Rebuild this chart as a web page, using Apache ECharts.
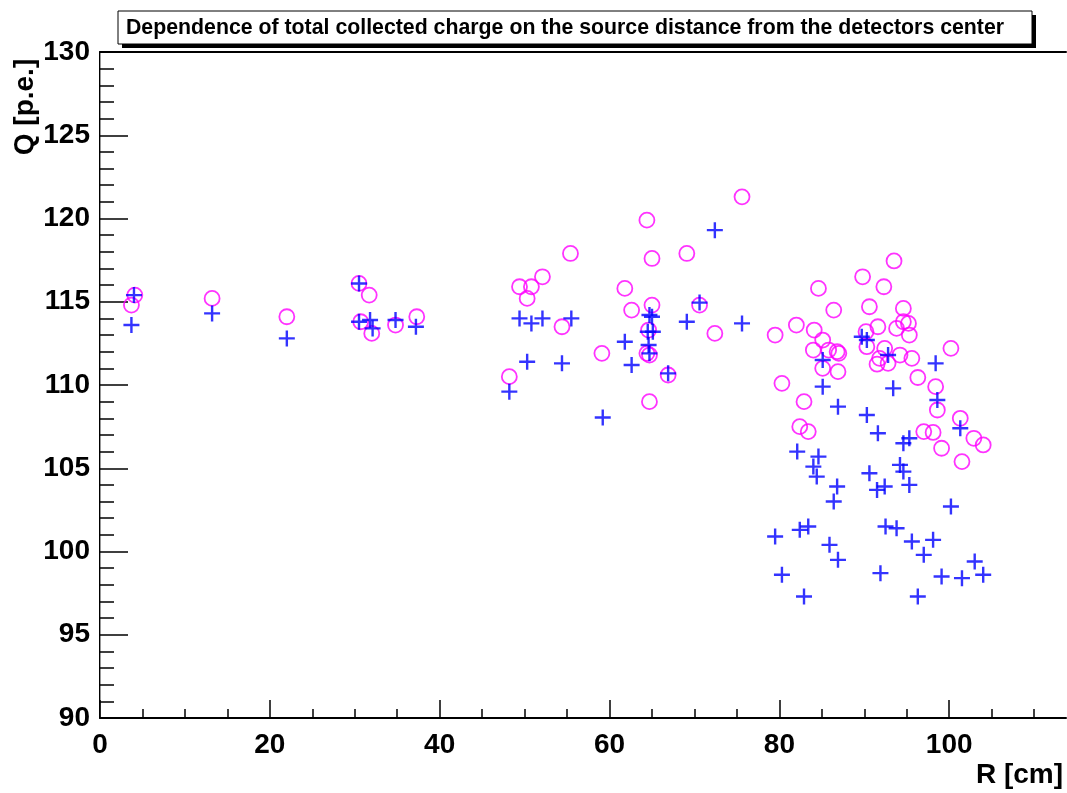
<!DOCTYPE html>
<html>
<head>
<meta charset="utf-8">
<script src="https://cdn.jsdelivr.net/npm/echarts@6/dist/echarts.min.js"></script>
<style>
  html, body { margin: 0; padding: 0; background: #fff; }
  #chart { width: 1067px; height: 793px; }
</style>
</head>
<body>
<div id="chart"></div>
<script>
// Source distance R [cm] and collected charge Q [p.e.] — open-circle set
const radiusA = [4.1, 3.7, 13.2, 22.0, 30.5, 31.7, 30.7, 32.0, 34.8, 37.3,
  48.2, 49.4, 50.3, 50.8, 52.1, 54.4, 55.4, 59.1, 61.8, 62.6, 64.4, 64.4, 64.7, 64.6, 65.0, 65.0, 64.7, 66.9, 69.1, 70.6, 72.4, 75.6,
  79.5, 80.3, 82.0, 82.9, 82.4, 83.4, 84.0, 84.1, 84.6, 85.1, 85.1, 85.8, 86.4, 86.8, 87.0, 86.9, 89.8, 90.2, 90.3, 90.6,
  91.5, 91.6, 91.8, 92.3, 92.4, 92.8, 93.5, 93.8, 94.2, 94.6, 94.6, 95.2, 95.3, 95.6, 96.3, 97.0, 98.1, 98.4, 98.6, 99.1,
  100.2, 101.3, 101.5, 102.9, 104.0];
const chargeA = [115.4, 114.8, 115.2, 114.1, 116.1, 115.4, 113.8, 113.1, 113.6, 114.1,
  110.5, 115.9, 115.2, 115.9, 116.5, 113.5, 117.9, 111.9, 115.8, 114.5, 119.9, 111.9, 111.8, 113.3, 117.6, 114.8, 109.0, 110.6, 117.9, 114.8, 113.1, 121.3,
  113.0, 110.1, 113.6, 109.0, 107.5, 107.2, 112.1, 113.3, 115.8, 112.7, 111.0, 112.1, 114.5, 112.0, 111.9, 110.8, 116.5, 113.2, 112.3, 114.7,
  111.25, 113.5, 111.6, 115.9, 112.2, 111.3, 117.45, 113.4, 111.8, 114.6, 113.8, 113.7, 113.0, 111.6, 110.45, 107.2, 107.15, 109.9, 108.5, 106.2,
  112.2, 108.0, 105.4, 106.8, 106.4];

// Source distance R [cm] and collected charge Q [p.e.] — cross set
const radiusB = [4.0, 3.7, 13.2, 22.0, 30.5, 30.5, 31.8, 32.1, 34.8, 37.2,
  48.2, 49.4, 50.3, 50.8, 52.1, 54.4, 55.5, 59.2, 61.8, 62.6, 64.5, 64.7, 65.0, 65.1, 64.6, 64.7, 66.9, 69.1, 70.6, 72.4, 75.6,
  79.5, 80.3, 82.1, 82.4, 82.9, 83.4, 84.0, 84.4, 84.6, 85.1, 85.1, 85.9, 86.4, 86.8, 86.9, 86.9, 89.7, 90.3, 90.3, 90.6,
  91.5, 91.6, 91.9, 92.4, 92.5, 92.8, 93.4, 93.8, 94.2, 94.6, 94.6, 95.3, 95.3, 95.6, 96.3, 97.0, 98.1, 98.4, 98.6, 99.1,
  100.2, 101.3, 101.5, 103.0, 104.0];
const chargeB = [115.4, 113.6, 114.3, 112.8, 116.1, 113.8, 113.9, 113.4, 113.9, 113.5,
  109.6, 114.0, 111.4, 113.7, 114.0, 111.3, 114.0, 108.05, 112.6, 111.2, 113.2, 114.2, 114.1, 113.2, 112.4, 111.9, 110.7, 113.8, 114.95, 119.3, 113.7,
  100.9, 98.6, 106.0, 101.3, 97.3, 101.5, 105.1, 104.5, 105.7, 111.5, 109.9, 100.4, 103.0, 103.9, 108.7, 99.5, 112.9, 112.7, 108.2, 104.7,
  103.7, 107.1, 98.7, 103.9, 101.5, 111.8, 109.8, 101.4, 105.2, 104.8, 106.5, 106.8, 104.0, 100.6, 97.3, 99.8, 100.7, 111.3, 109.1, 98.5,
  102.7, 107.4, 98.4, 99.4, 98.6];

// Axis ticks
const xMajorTicks = [0, 20, 40, 60, 80, 100];
const xMinorTicks = [5, 10, 15, 25, 30, 35, 45, 50, 55, 65, 70, 75, 85, 90, 95, 105, 110];
const xRange = [0, 113.75];
const yRange = [90, 130];

const titleText = 'Dependence of total collected charge on the source distance from the detectors center';
const xTitle = 'R [cm]';
const yTitle = 'Q [p.e.]';

const FONT = '"Liberation Sans", Arial, Helvetica, sans-serif';
const tickStyle = { color: '#000', width: 1.5 };
const labelStyle = { color: '#000', fontFamily: FONT, fontWeight: 'bold', fontSize: 28 };

const zip = (xs, ys) => xs.map((x, i) => [x, ys[i]]);

const chart = echarts.init(document.getElementById('chart'), null, { renderer: 'canvas' });
chart.setOption({
  animation: false,
  backgroundColor: '#fff',
  grid: { left: 100, top: 52, width: 966, height: 666, containLabel: false },
  xAxis: [
    {
      type: 'value', position: 'bottom', min: xRange[0], max: xRange[1],
      axisLine: { lineStyle: { color: '#000', width: 2 } },
      axisTick: { inside: true, length: 18, customValues: xMajorTicks, lineStyle: tickStyle },
      axisLabel: Object.assign({ customValues: xMajorTicks, margin: 13 }, labelStyle),
      splitLine: { show: false }
    },
    {
      type: 'value', position: 'bottom', min: xRange[0], max: xRange[1],
      axisLine: { show: false },
      axisTick: { inside: true, length: 9, customValues: xMinorTicks, lineStyle: tickStyle },
      axisLabel: { show: false },
      splitLine: { show: false }
    },
    {
      type: 'value', position: 'top', min: xRange[0], max: xRange[1],
      axisLine: { lineStyle: { color: '#000', width: 2 } },
      axisTick: { show: false }, axisLabel: { show: false }, splitLine: { show: false }
    }
  ],
  yAxis: [
    {
      type: 'value', position: 'left', min: yRange[0], max: yRange[1], interval: 5,
      axisLine: { lineStyle: { color: '#000', width: 2 } },
      axisTick: { inside: true, length: 28, lineStyle: tickStyle },
      minorTick: { show: true, splitNumber: 5, length: 14, lineStyle: tickStyle },
      axisLabel: Object.assign({ margin: 10 }, labelStyle),
      splitLine: { show: false }, minorSplitLine: { show: false }
    },
    {
      type: 'value', position: 'right', min: yRange[0], max: yRange[1],
      axisLine: { lineStyle: { color: '#999', width: 1 } },
      axisTick: { show: false }, axisLabel: { show: false }, splitLine: { show: false }
    }
  ],
  series: [
    {
      name: 'open circles', type: 'scatter', xAxisIndex: 0, yAxisIndex: 0,
      data: zip(radiusA, chargeA),
      symbol: 'circle', symbolSize: 15,
      itemStyle: { color: 'rgba(0,0,0,0)', borderColor: '#ff00ff', borderWidth: 1.8 },
      emphasis: { disabled: true }, silent: true
    },
    {
      name: 'crosses', type: 'scatter', xAxisIndex: 0, yAxisIndex: 0,
      data: zip(radiusB, chargeB),
      symbol: 'path://M6.8,0H9.2V6.8H16V9.2H9.2V16H6.8V9.2H0V6.8H6.8Z', symbolSize: 16,
      itemStyle: { color: '#0000ff' },
      emphasis: { disabled: true }, silent: true
    }
  ],
  graphic: [
    { type: 'rect', shape: { x: 122, y: 15, width: 914, height: 33 }, style: { fill: '#000' }, silent: true },
    { type: 'rect', shape: { x: 118, y: 11, width: 914, height: 33 }, style: { fill: '#fff', stroke: '#000', lineWidth: 1 }, silent: true },
    {
      type: 'text', x: 565, y: 28, silent: true,
      style: { text: titleText, fill: '#000', font: 'bold 21.3px ' + FONT, align: 'center', verticalAlign: 'middle' }
    },
    {
      type: 'text', x: 1063, y: 775, silent: true,
      style: { text: xTitle, fill: '#000', font: 'bold 28px ' + FONT, align: 'right', verticalAlign: 'middle' }
    },
    {
      type: 'text', x: 25, y: 107, rotation: Math.PI / 2, silent: true,
      style: { text: yTitle, fill: '#000', font: 'bold 28px ' + FONT, align: 'center', verticalAlign: 'middle' }
    }
  ]
});
</script>
</body>
</html>
